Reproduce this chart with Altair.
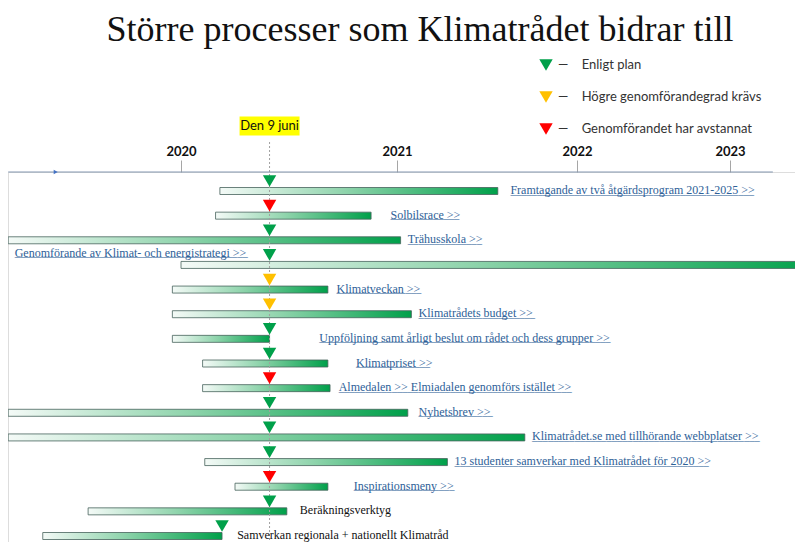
import altair as alt
import pandas as pd

# ---------------- data ----------------
tasks = [
    "Framtagande av två åtgärdsprogram 2021-2025 >>",
    "Solbilsrace >>",
    "Trähusskola >>",
    "Genomförande av Klimat- och energistrategi >>",
    "Klimatveckan >>",
    "Klimatrådets budget >>",
    "Uppföljning samt årligt beslut om rådet och dess grupper >>",
    "Klimatpriset >>",
    "Almedalen >> Elmiadalen genomförs istället >>",
    "Nyhetsbrev >>",
    "Klimatrådet.se med tillhörande webbplatser >>",
    "13 studenter samverkar med Klimatrådet för 2020 >>",
    "Inspirationsmeny >>",
    "Beräkningsverktyg",
    "Samverkan regionala + nationellt Klimatråd",
]
row = list(range(1, 16))
start = [2020.18, 2020.16, 2019.20, 2020.00, 2019.96, 2019.96, 2019.96, 2020.10,
         2020.10, 2019.20, 2019.20, 2020.11, 2020.25, 2019.57, 2019.36]
end = [2021.56, 2020.88, 2021.02, 2023.60, 2020.68, 2021.08, 2020.41, 2020.68,
       2020.69, 2021.06, 2021.71, 2021.28, 2020.68, 2020.49, 2020.19]
label_at = [2021.63, 2020.97, 2021.06, 2019.23, 2020.72, 2021.12, 2020.64, 2020.81,
            2020.73, 2021.12, 2021.75, 2021.32, 2020.80, 2020.55, 2020.26]
status = ["Enligt plan", "Genomförandet har avstannat", "Enligt plan", "Enligt plan",
          "Högre genomförandegrad krävs", "Högre genomförandegrad krävs", "Enligt plan",
          "Enligt plan", "Genomförandet har avstannat", "Enligt plan", "Enligt plan",
          "Enligt plan", "Genomförandet har avstannat", "Enligt plan", "Enligt plan"]
marker_at = [2020.41] * 14 + [2020.19]
is_link = [True] * 13 + [False, False]

status_names = ["Enligt plan", "Högre genomförandegrad krävs", "Genomförandet har avstannat"]
status_colors = ["#00a04a", "#ffc000", "#ff0000"]

years = [2020, 2021, 2022, 2023]
today = [2020.41]
today_label = ["Den 9 juni"]
timeline_span = [2019.20, 2023.28]
arrow_at = [2019.42]
title_text = ["Större processer som Klimatrådet bidrar till"]

# ---------------- helpers: underline length from Times-like glyph widths ----------------
LABEL_SIZE = 12
UNDERLINE_SIZE = 10.6
_w = {" ": 250, ">": 564, "-": 333, ".": 250, "+": 564, "_": 500,
      "a": 444, "b": 500, "c": 444, "d": 500, "e": 444, "f": 333, "g": 500, "h": 500,
      "i": 278, "j": 278, "k": 500, "l": 278, "m": 778, "n": 500, "o": 500, "p": 500,
      "q": 500, "r": 333, "s": 389, "t": 278, "u": 500, "v": 500, "w": 722, "x": 500,
      "y": 500, "z": 444, "å": 444, "ä": 444, "ö": 500,
      "A": 722, "B": 667, "C": 667, "D": 722, "E": 611, "F": 556, "G": 722, "H": 722,
      "I": 333, "J": 389, "K": 722, "L": 611, "M": 889, "N": 722, "O": 722, "P": 556,
      "R": 667, "S": 556, "T": 611, "U": 722, "V": 722, "W": 944, "Ä": 722, "Å": 722}


def underline_for(text):
    width = sum(_w.get(ch, 500) for ch in text) * LABEL_SIZE / 1000.0
    n = max(1, round(width / (0.5 * UNDERLINE_SIZE)))
    return "_" * n


df = pd.DataFrame({
    "task": tasks, "row": row, "start": start, "end": end, "label_at": label_at,
    "status": status, "marker_at": marker_at, "is_link": is_link,
})
df["underline"] = [underline_for(t) for t in tasks]
today_df = pd.DataFrame({"year": today, "label": today_label})
axis_df = pd.DataFrame({"start": [timeline_span[0]], "end": [timeline_span[1]]})
arrow_df = pd.DataFrame({"year": arrow_at})
title_df = pd.DataFrame({"title": title_text})

# ---------------- scales / axis ----------------
xscale = alt.Scale(domain=[2019, 2020, 2021, 2022, 2023, 2024],
                   range=[-43, 173, 389, 569, 722, 875], zero=False, nice=False, padding=0)
yscale = alt.Scale(domain=[1, 15], range=[19, 364], zero=False, nice=False, padding=0)

x_axis = alt.Axis(orient="top", values=years, format="d", domain=False, grid=False,
                  tickSize=12, tickColor="#a6a6a6", tickWidth=1,
                  labelFont="Lato", labelFontWeight="bold", labelFontSize=13,
                  labelColor="#111111", labelPadding=2, title=None)


def X(field):
    return alt.X(field, scale=xscale, axis=x_axis, title=None)


def Y(field):
    return alt.Y(field, scale=yscale, axis=None)


link_color = "#2e6198"
label_font = "Liberation Serif"
NB = "\u00a0"

# title
title = alt.Chart(title_df).mark_text(
    font="Liberation Serif", fontSize=36, color="#111111", align="center",
    baseline="alphabetic"
).encode(x=alt.value(412), y=alt.value(-131), text="title:N")

# today line and label
today_rule = alt.Chart(today_df).mark_rule(color="#a0a0a0", strokeDash=[2, 2], strokeWidth=1).encode(
    x=X("year:Q"), y=alt.value(-30), y2=alt.value(372),
)
highlight = alt.Chart(today_df).mark_point(
    shape="M-1,-0.32H1V0.32H-1Z", filled=True, size=3600, color="#ffff00", opacity=1
).encode(x=X("year:Q"), y=alt.value(-46))
today_text = alt.Chart(today_df).mark_text(
    font="Lato", fontSize=13, color="#111111", baseline="middle", align="center"
).encode(x=X("year:Q"), y=alt.value(-46), text="label:N")

# timeline line and arrow
axis_line = alt.Chart(axis_df).mark_rule(color="#8497b0", strokeWidth=1).encode(
    x=X("start:Q"), x2="end:Q", y=alt.value(0)
)
arrow = alt.Chart(arrow_df).mark_point(shape="triangle-right", filled=True, size=22,
                                       color="#4472c4", opacity=1).encode(
    x=X("year:Q"), y=alt.value(0)
)

# bars
gradient = alt.Gradient(
    gradient="linear",
    stops=[alt.GradientStop(color="#f4faf7", offset=0),
           alt.GradientStop(color="#8fd4ac", offset=0.45),
           alt.GradientStop(color="#00a04a", offset=1)],
    x1=0, x2=1, y1=0, y2=0,
)
bars = alt.Chart(df).mark_bar(orient="horizontal", size=7, fill=gradient,
                              stroke="#46625c", strokeWidth=0.8).encode(
    x=X("start:Q"), x2="end:Q", y=Y("row:Q"),
)

# status markers (with legend)
markers = alt.Chart(df).mark_point(shape="triangle-down", filled=True, size=180,
                                   opacity=1, yOffset=-10).encode(
    x=X("marker_at:Q"),
    y=Y("row:Q"),
    color=alt.Color("status:N", scale=alt.Scale(domain=status_names, range=status_colors),
                    legend=alt.Legend(orient="none", legendX=531, legendY=-114, title=None,
                                      symbolType="triangle-down", symbolSize=180,
                                      symbolStrokeWidth=0, labelFont="Lato", labelFontSize=13,
                                      labelColor="#333333", labelOffset=5, rowPadding=18,
                                      padding=0, labelLimit=400,
                                      labelExpr="'—" + NB * 4 + "' + datum.label")),
)

# labels
base_lab = alt.Chart(df)
labels = base_lab.transform_filter("datum.row != 4").mark_text(
    font=label_font, fontSize=LABEL_SIZE, align="left", baseline="middle", dy=-1
).encode(
    x=X("label_at:Q"), y=Y("row:Q"), text="task:N",
    color=alt.condition("datum.is_link", alt.value(link_color), alt.value("#111111")),
)
underlines = base_lab.transform_filter("datum.row != 4 && datum.is_link").mark_text(
    font=label_font, fontSize=UNDERLINE_SIZE, align="left", baseline="middle", dy=-0.5,
    color=link_color
).encode(x=X("label_at:Q"), y=Y("row:Q"), text="underline:N")
label4 = base_lab.transform_filter("datum.row == 4").mark_text(
    font=label_font, fontSize=LABEL_SIZE, align="left", baseline="middle", dy=-12,
    color=link_color
).encode(x=X("label_at:Q"), y=Y("row:Q"), text="task:N")
underline4 = base_lab.transform_filter("datum.row == 4").mark_text(
    font=label_font, fontSize=UNDERLINE_SIZE, align="left", baseline="middle", dy=-11.5,
    color=link_color
).encode(x=X("label_at:Q"), y=Y("row:Q"), text="underline:N")

chart = alt.layer(
    bars, today_rule, highlight, today_text, axis_line, arrow,
    labels, underlines, label4, underline4, markers, title,
).properties(
    width=787, height=370,
    autosize=alt.AutoSizeParams(type="none"),
    padding={"left": 0, "top": 164, "right": 0, "bottom": 0},
).configure_view(stroke=None).configure(background="white")

chart.save("out.html", embed_options={"renderer": "svg", "actions": False})
